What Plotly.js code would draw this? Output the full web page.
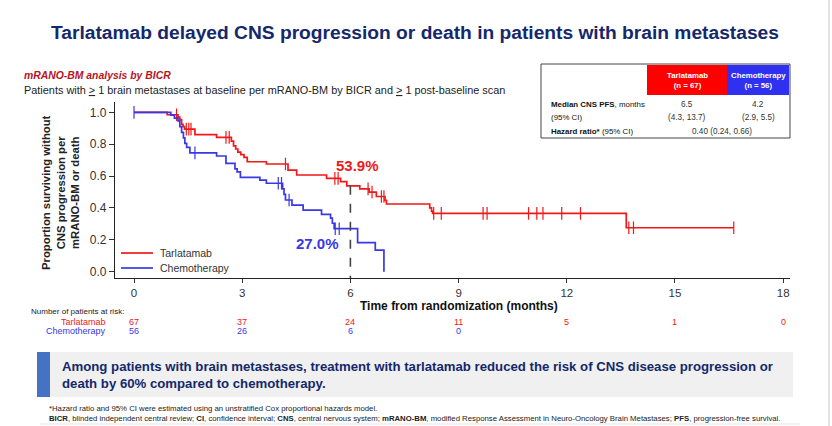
<!DOCTYPE html>
<html>
<head>
<meta charset="utf-8">
<script src="https://cdn.plot.ly/plotly-3.0.1.min.js"></script>
<style>
  html, body { margin: 0; padding: 0; background: #ffffff; }
  #chart { width: 832px; height: 426px; }
</style>
</head>
<body>
<div id="chart"></div>
<script>
// Kaplan-Meier step data: CNS progression-free survival (months)
const tarlaTime = [0, 0.92, 1.22, 1.27, 1.32, 1.36, 1.40, 1.69, 2.29, 2.70, 2.76, 2.82, 2.88, 2.96, 3.05, 3.14, 3.67, 4.27, 4.51, 5.34, 5.73, 5.90, 6.26, 6.52, 6.72, 6.96, 7.00, 8.20, 8.25, 8.28, 13.65, 16.63];
const tarlaSurv = [1.0, 0.985, 0.970, 0.955, 0.925, 0.910, 0.895, 0.860, 0.843, 0.820, 0.790, 0.770, 0.750, 0.735, 0.718, 0.690, 0.676, 0.638, 0.607, 0.586, 0.565, 0.539, 0.520, 0.500, 0.472, 0.448, 0.425, 0.400, 0.380, 0.366, 0.276, 0.276];
const tarlaCensor = [1.18, 1.45, 1.52, 1.58, 2.55, 2.64, 4.20, 5.57, 5.66, 6.49, 6.60, 6.86, 6.93, 8.31, 8.52, 9.68, 9.79, 10.94, 11.17, 11.34, 11.86, 12.38, 13.72, 13.85, 16.63];

const chemoTime = [0, 1.02, 1.12, 1.22, 1.27, 1.32, 1.37, 1.41, 1.46, 1.55, 2.29, 2.55, 2.80, 2.86, 2.95, 3.49, 3.67, 4.12, 4.16, 4.20, 4.38, 4.69, 5.20, 5.45, 5.50, 5.55, 6.20, 6.69, 6.93];
const chemoSurv = [1.0, 0.982, 0.964, 0.946, 0.910, 0.875, 0.840, 0.805, 0.780, 0.746, 0.726, 0.680, 0.645, 0.627, 0.592, 0.575, 0.555, 0.520, 0.485, 0.450, 0.418, 0.387, 0.360, 0.336, 0.304, 0.270, 0.182, 0.136, 0.0];
const chemoCensor = [0, 1.69, 4.00, 4.09, 4.30, 5.58, 5.69];

// Number at risk
const riskMonths = [0, 3, 6, 9, 12, 15, 18];
const riskTarla = [67, 37, 24, 11, 5, 1, 0];
const riskChemo = [56, 26, 6, 0];

// Landmark time for the labelled estimates
const landmark = 6;

// Summary table
const armNames = ['Tarlatamab', 'Chemotherapy'];
const armN = [67, 56];
const medianPFS = ['6.5', '4.2'];
const medianCI = ['(4.3, 13.7)', '(2.9, 5.5)'];
const hazardRatio = '0.40 (0.24, 0.66)';

const RED = '#f01818';
const BLUE = '#3838e6';
const NAVY = '#14286b';
const NARROW = '"Liberation Sans Narrow", "Arial Narrow", "Liberation Sans", Arial, sans-serif';
const SANS = '"Liberation Sans", Arial, sans-serif';

function survAt(times, surv, t) {
  let s = surv[0];
  for (let i = 0; i < times.length; i++) { if (times[i] <= t) s = surv[i]; }
  return s;
}

// plot area geometry (pixels)
const L = 115, T = 102, W = 675, H = 176;
const px = x => (x - L) / W;
const py = y => 1 - (y - T) / H;

const traces = [
  { x: tarlaTime, y: tarlaSurv, type: 'scatter', mode: 'lines', line: { shape: 'hv', color: RED, width: 1.7 }, hoverinfo: 'skip', showlegend: false },
  { x: tarlaCensor, y: tarlaCensor.map(t => survAt(tarlaTime, tarlaSurv, t)), type: 'scatter', mode: 'markers',
    marker: { symbol: 'line-ns', size: 9, line: { color: RED, width: 1.2 } }, hoverinfo: 'skip', showlegend: false },
  { x: chemoTime, y: chemoSurv, type: 'scatter', mode: 'lines', line: { shape: 'hv', color: BLUE, width: 1.7 }, hoverinfo: 'skip', showlegend: false },
  { x: chemoCensor, y: chemoCensor.map(t => survAt(chemoTime, chemoSurv, t)), type: 'scatter', mode: 'markers',
    marker: { symbol: 'line-ns', size: 9, line: { color: BLUE, width: 1.2 } }, hoverinfo: 'skip', showlegend: false }
];

const tarla6 = survAt(tarlaTime, tarlaSurv, landmark);
const chemo6 = survAt(chemoTime, chemoSurv, landmark);

const annotations = [];
const shapes = [];
const A = (o) => annotations.push(Object.assign({ xref: 'paper', yref: 'paper', showarrow: false }, o));

// headline
A({ x: px(415), y: py(32), text: '<b>Tarlatamab delayed CNS progression or death in patients with brain metastases</b>',
    font: { family: NARROW, size: 19.2, color: NAVY }, xanchor: 'center', yanchor: 'middle' });
// subtitle lines
A({ x: px(22), y: py(75), text: '<b><i>mRANO-BM analysis by BICR</i></b>', font: { family: NARROW, size: 10.4, color: '#b8141e' }, xanchor: 'left', yanchor: 'middle' });
A({ x: px(22), y: py(90), text: 'Patients with <u>></u> 1 brain metastases at baseline per mRANO-BM by BICR and <u>></u> 1 post-baseline scan',
    font: { family: NARROW, size: 10.9, color: '#222' }, xanchor: 'left', yanchor: 'middle' });

// y-axis title
A({ x: px(60), y: py(192), text: '<b>Proportion surviving without<br>CNS progression per<br>mRANO-BM or death</b>', textangle: -90,
    font: { family: SANS, size: 11.3, color: '#222' }, xanchor: 'center', yanchor: 'middle' });
// x-axis title
A({ x: px(459), y: py(306), text: '<b>Time from randomization (months)</b>', font: { family: NARROW, size: 12, color: '#111' }, xanchor: 'center', yanchor: 'middle' });

// landmark labels
A({ xref: 'x', yref: 'y', x: landmark + 0.2, y: tarla6 + 0.13, text: '<b>' + (tarla6 * 100).toFixed(1) + '%</b>', font: { family: SANS, size: 15, color: RED }, xanchor: 'center', yanchor: 'middle' });
A({ xref: 'x', yref: 'y', x: landmark - 0.9, y: chemo6 - 0.09, text: '<b>' + (chemo6 * 100).toFixed(1) + '%</b>', font: { family: SANS, size: 15, color: BLUE }, xanchor: 'center', yanchor: 'middle' });
shapes.push({ type: 'line', xref: 'x', yref: 'y', x0: landmark, x1: landmark, y0: tarla6, y1: -0.0395, line: { color: '#444', width: 1.6, dash: 'dash' } });

// legend
[[armNames[0], RED, 253], [armNames[1], BLUE, 268]].forEach(([name, col, y]) => {
  shapes.push({ type: 'line', xref: 'paper', yref: 'paper', x0: px(121), x1: px(153), y0: py(y), y1: py(y), line: { color: col, width: 1.7 } });
  A({ x: px(158), y: py(y), text: name, font: { family: SANS, size: 10.5, color: '#333' }, xanchor: 'left', yanchor: 'middle' });
});

// numbers at risk
A({ x: px(29), y: py(311), text: 'Number of patients at risk:', font: { family: NARROW, size: 8, color: '#222' }, xanchor: 'left', yanchor: 'middle' });
A({ x: px(108), y: py(322), text: armNames[0], font: { family: NARROW, size: 9, color: RED }, xanchor: 'right', yanchor: 'middle' });
A({ x: px(108), y: py(331), text: armNames[1], font: { family: NARROW, size: 9, color: BLUE }, xanchor: 'right', yanchor: 'middle' });
riskTarla.forEach((n, i) => A({ xref: 'x', x: riskMonths[i], y: py(322), text: String(n), font: { family: NARROW, size: 9, color: RED }, xanchor: 'center', yanchor: 'middle' }));
riskChemo.forEach((n, i) => A({ xref: 'x', x: riskMonths[i], y: py(331), text: String(n), font: { family: NARROW, size: 9, color: BLUE }, xanchor: 'center', yanchor: 'middle' }));

// summary table
const R = (x0, y0, x1, y1, fill, lineCol) => shapes.push({ type: 'rect', xref: 'paper', yref: 'paper', x0: px(x0), x1: px(x1), y0: py(y1), y1: py(y0),
  fillcolor: fill, line: { color: lineCol || 'rgba(0,0,0,0)', width: lineCol ? 1 : 0 }, layer: 'below' });
R(541, 64, 790, 138, '#ffffff', '#444');
R(647, 65, 727, 95, '#ff0000');
R(727, 65, 789, 95, '#3030f0');
const colX = [687, 758];
armNames.forEach((nm, i) => {
  A({ x: px(colX[i]), y: py(80), text: '<b>' + nm + '<br>(n = ' + armN[i] + ')</b>', font: { family: NARROW, size: 7.8, color: '#fff' }, xanchor: 'center', yanchor: 'middle' });
  A({ x: px(colX[i]), y: py(104), text: medianPFS[i], font: { family: NARROW, size: 8.2, color: '#333' }, xanchor: 'center', yanchor: 'middle' });
  A({ x: px(colX[i]), y: py(117), text: medianCI[i], font: { family: NARROW, size: 8.2, color: '#333' }, xanchor: 'center', yanchor: 'middle' });
});
A({ x: px(549), y: py(104), text: '<b>Median CNS PFS</b>, months', font: { family: NARROW, size: 7.9, color: '#111' }, xanchor: 'left', yanchor: 'middle' });
A({ x: px(549), y: py(117), text: '(95% CI)', font: { family: NARROW, size: 7.9, color: '#111' }, xanchor: 'left', yanchor: 'middle' });
A({ x: px(549), y: py(131), text: '<b>Hazard ratio*</b> (95% CI)', font: { family: NARROW, size: 7.9, color: '#111' }, xanchor: 'left', yanchor: 'middle' });
A({ x: px(722), y: py(131), text: hazardRatio, font: { family: NARROW, size: 8.2, color: '#333' }, xanchor: 'center', yanchor: 'middle' });

// key message box
R(37, 352, 793, 397, '#f0f0f0');
R(37, 352, 50, 397, '#4472c4');
A({ x: px(60), y: py(375), align: 'left',
    text: '<b>Among patients with brain metastases, treatment with tarlatamab reduced the risk of CNS disease progression or<br>death by 60% compared to chemotherapy.</b>',
    font: { family: NARROW, size: 13.2, color: NAVY }, xanchor: 'left', yanchor: 'middle' });

// footnotes
A({ x: px(47), y: py(408), text: '*Hazard ratio and 95% CI were estimated using an unstratified Cox proportional hazards model.', font: { family: NARROW, size: 7.75, color: '#222' }, xanchor: 'left', yanchor: 'middle' });
A({ x: px(47), y: py(418.5), text: '<b>BICR</b>, blinded independent central review; <b>CI</b>, confidence interval; <b>CNS</b>, central nervous system; <b>mRANO-BM</b>, modified Response Assessment in Neuro-Oncology Brain Metastases; <b>PFS</b>, progression-free survival.',
    font: { family: NARROW, size: 7.75, color: '#222' }, xanchor: 'left', yanchor: 'middle' });

// page frame lines
shapes.push({ type: 'line', xref: 'paper', yref: 'paper', x0: px(829), x1: px(829), y0: py(0), y1: py(426), line: { color: '#d8d8d8', width: 1.5 } });
shapes.push({ type: 'line', xref: 'paper', yref: 'paper', x0: px(40), x1: px(800), y0: py(424), y1: py(424), line: { color: '#e4e4e4', width: 1 } });

const layout = {
  width: 832, height: 426,
  margin: { l: L, r: 832 - L - W, t: T, b: 426 - T - H, pad: 0 },
  paper_bgcolor: '#ffffff', plot_bgcolor: '#ffffff',
  showlegend: false,
  xaxis: {
    range: [-0.527, 18.19], tickvals: riskMonths, ticks: 'outside', ticklen: 4, tickwidth: 1, tickcolor: '#333',
    showline: true, linecolor: '#222', linewidth: 1.2, showgrid: false, zeroline: false,
    tickfont: { family: SANS, size: 11.5, color: '#333' }
  },
  yaxis: {
    range: [-0.0395, 1.065], tickvals: [0, 0.2, 0.4, 0.6, 0.8, 1.0], tickformat: '.1f', ticks: 'outside', ticklen: 5, tickwidth: 1, tickcolor: '#333',
    showline: true, linecolor: '#222', linewidth: 1.2, showgrid: false, zeroline: false,
    tickfont: { family: SANS, size: 12, color: '#333' }
  },
  annotations: annotations,
  shapes: shapes
};

Plotly.newPlot('chart', traces, layout, { staticPlot: true, displayModeBar: false });
</script>
</body>
</html>
